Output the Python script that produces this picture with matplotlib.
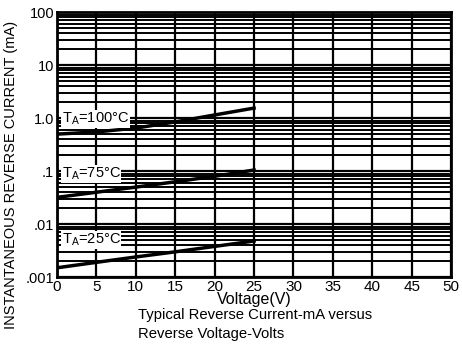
import numpy as np
import matplotlib
matplotlib.use("Agg")
import matplotlib.pyplot as plt

plt.rcParams['font.family'] = ['Liberation Sans', 'DejaVu Sans']
plt.rcParams['mathtext.fontset'] = 'custom'
plt.rcParams['mathtext.rm'] = 'Liberation Sans'

# data
voltage = [0, 5, 10, 15, 20, 25]
i_100c = [0.50, 0.55, 0.65, 0.85, 1.15, 1.55]
i_75c = [0.032, 0.040, 0.050, 0.063, 0.080, 0.105]
i_25c = [0.0015, 0.0019, 0.0024, 0.0030, 0.0038, 0.0048]
curve_labels = ["T$_\\mathrm{A}$=100°C", "T$_\\mathrm{A}$=75°C", "T$_\\mathrm{A}$=25°C"]
label_pos = [0.98, 0.088, 0.0051]
ytick_vals = [0.001, 0.01, 0.1, 1.0, 10, 100]
ytick_text = [".001", ".01", ".1", "1.0", "10", "100"]
xticks = [0, 5, 10, 15, 20, 25, 30, 35, 40, 45, 50]

fig = plt.figure(figsize=(4.62, 3.49), dpi=100)
ax = fig.add_axes([0.1234, 0.206, 0.853, 0.759])

ax.set_yscale('log')
ax.set_xlim(0, 50)
ax.set_ylim(0.001, 100)

ax.set_xticks(xticks)
ax.set_xticklabels([str(x) for x in xticks], fontsize=11)
ax.set_yticks(ytick_vals)
ax.set_yticklabels(ytick_text, fontsize=10.5)
ax.yaxis.set_minor_locator(matplotlib.ticker.LogLocator(base=10, subs=np.arange(2, 10)))
ax.yaxis.set_minor_formatter(matplotlib.ticker.NullFormatter())
ax.tick_params(length=0, pad=2, which='both')

ax.grid(True, which='major', axis='both', color='black', lw=1.6)
ax.grid(True, which='minor', axis='y', color='black', lw=1.4)
for s in ax.spines.values():
    s.set_linewidth(2)

for ys in (i_100c, i_75c, i_25c):
    ax.plot(voltage, ys, color='black', lw=2.5, zorder=3)

for txt, yp in zip(curve_labels, label_pos):
    ax.text(0.6, yp, txt, fontsize=10.5, va='center', ha='left', zorder=4,
            bbox=dict(facecolor='white', edgecolor='none', pad=0.5))

ax.set_xlabel("Voltage(V)", fontsize=11.5, labelpad=-1)
ax.set_ylabel("INSTANTANEOUS REVERSE CURRENT (mA)", fontsize=10.5)
ax.yaxis.set_label_coords(-0.1, 0.387)

fig.text(0.299, 0.085, "Typical Reverse Current-mA versus", fontsize=10.7)
fig.text(0.299, 0.032, "Reverse Voltage-Volts", fontsize=10.7)

fig.savefig("out.png", dpi=100)
